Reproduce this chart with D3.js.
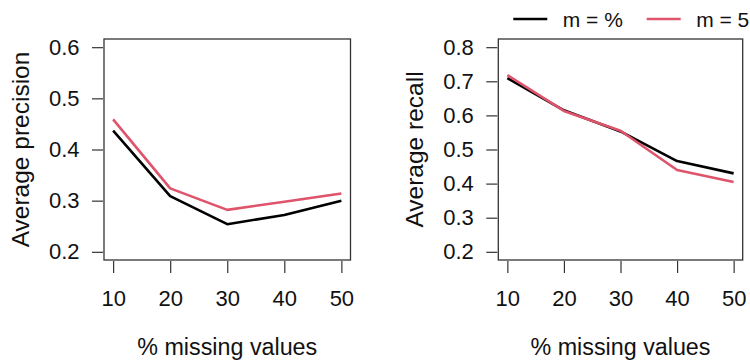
<!DOCTYPE html>
<html>
<head>
<meta charset="utf-8">
<script src="https://cdn.jsdelivr.net/npm/d3@7"></script>
<style>
  body { margin: 0; background: #fff; }
  svg text { font-family: "Liberation Sans", Arial, sans-serif; fill: #111; }
</style>
</head>
<body>
<div id="chart"></div>
<script>
// data
const missing = [10, 20, 30, 40, 50];
const precisionPct = [0.437, 0.309, 0.254, 0.272, 0.300];
const precision5 = [0.459, 0.324, 0.282, 0.298, 0.314];
const recallPct = [0.709, 0.615, 0.553, 0.466, 0.430];
const recall5 = [0.718, 0.613, 0.555, 0.440, 0.405];
const precisionTicks = [0.2, 0.3, 0.4, 0.5, 0.6];
const recallTicks = [0.2, 0.3, 0.4, 0.5, 0.6, 0.7, 0.8];
const seriesNames = ["m = %", "m = 5"];
const colors = ["#000000", "#DF536B"];

const width = 750, height = 361;

const svg = d3.select("#chart").append("svg")
  .attr("width", width)
  .attr("height", height);

function drawPanel(opts) {
  const { left, right, top, bottom, ylim, yTicks, ylab, series } = opts;

  // R style 4% padding around the data range
  const xPad = (50 - 10) * 0.04;
  const yPad = (ylim[1] - ylim[0]) * 0.04;

  const x = d3.scaleLinear()
    .domain([10 - xPad, 50 + xPad])
    .range([left, right]);

  const y = d3.scaleLinear()
    .domain([ylim[0] - yPad, ylim[1] + yPad])
    .range([bottom, top]);

  // y axis
  const yAxis = svg.append("g")
    .attr("transform", `translate(${left - 1}, 0)`)
    .call(d3.axisLeft(y).tickValues(yTicks).tickFormat(d3.format(".1f")).tickSize(11).tickPadding(12.5));
  yAxis.select(".domain").remove();
  yAxis.selectAll("line").attr("stroke", "#333").attr("stroke-width", 1.2);
  yAxis.selectAll("text").style("font-size", "22px").attr("fill", "#111");

  // x axis
  const xAxis = svg.append("g")
    .attr("transform", `translate(0, ${bottom + 1})`)
    .call(d3.axisBottom(x).tickValues(missing).tickSize(12).tickPadding(17));
  xAxis.select(".domain").remove();
  xAxis.selectAll("line").attr("stroke", "#333").attr("stroke-width", 1.2);
  xAxis.selectAll("text").style("font-size", "22px").attr("fill", "#111");

  // lines
  const line = d3.line()
    .x((d, i) => x(missing[i]))
    .y(d => y(d));

  series.forEach((s, i) => {
    svg.append("path")
      .datum(s)
      .attr("d", line)
      .attr("fill", "none")
      .attr("stroke", colors[i])
      .attr("stroke-width", 2.6)
      .attr("stroke-linejoin", "round");
  });

  // box
  svg.append("rect")
    .attr("x", left)
    .attr("y", top)
    .attr("width", right - left)
    .attr("height", bottom - top)
    .attr("fill", "none")
    .attr("stroke", "#333")
    .attr("stroke-width", 1.3);

  // axis titles
  svg.append("text")
    .attr("x", (left + right) / 2)
    .attr("y", 355)
    .attr("text-anchor", "middle")
    .style("font-size", "23.3px")
    .text("% missing values");

  svg.append("text")
    .attr("transform", `translate(${left - 75.5}, ${(top + bottom) / 2}) rotate(-90)`)
    .attr("text-anchor", "middle")
    .style("font-size", "24.5px")
    .text(ylab);
}

drawPanel({
  left: 104, right: 350.5, top: 39, bottom: 260,
  ylim: [0.2, 0.6], yTicks: precisionTicks,
  ylab: "Average precision",
  series: [precisionPct, precision5]
});

drawPanel({
  left: 498.3, right: 742.7, top: 39, bottom: 260,
  ylim: [0.2, 0.8], yTicks: recallTicks,
  ylab: "Average recall",
  series: [recallPct, recall5]
});

// legend above the right panel
const legendX = [513.3, 646.7];
const legend = svg.append("g");
seriesNames.forEach((name, i) => {
  legend.append("line")
    .attr("x1", legendX[i])
    .attr("x2", legendX[i] + 34)
    .attr("y1", 19)
    .attr("y2", 19)
    .attr("stroke", colors[i])
    .attr("stroke-width", 2.6);
  legend.append("text")
    .attr("x", legendX[i] + 49.5)
    .attr("y", 26.5)
    .style("font-size", "21px")
    .text(name);
});
</script>
</body>
</html>
